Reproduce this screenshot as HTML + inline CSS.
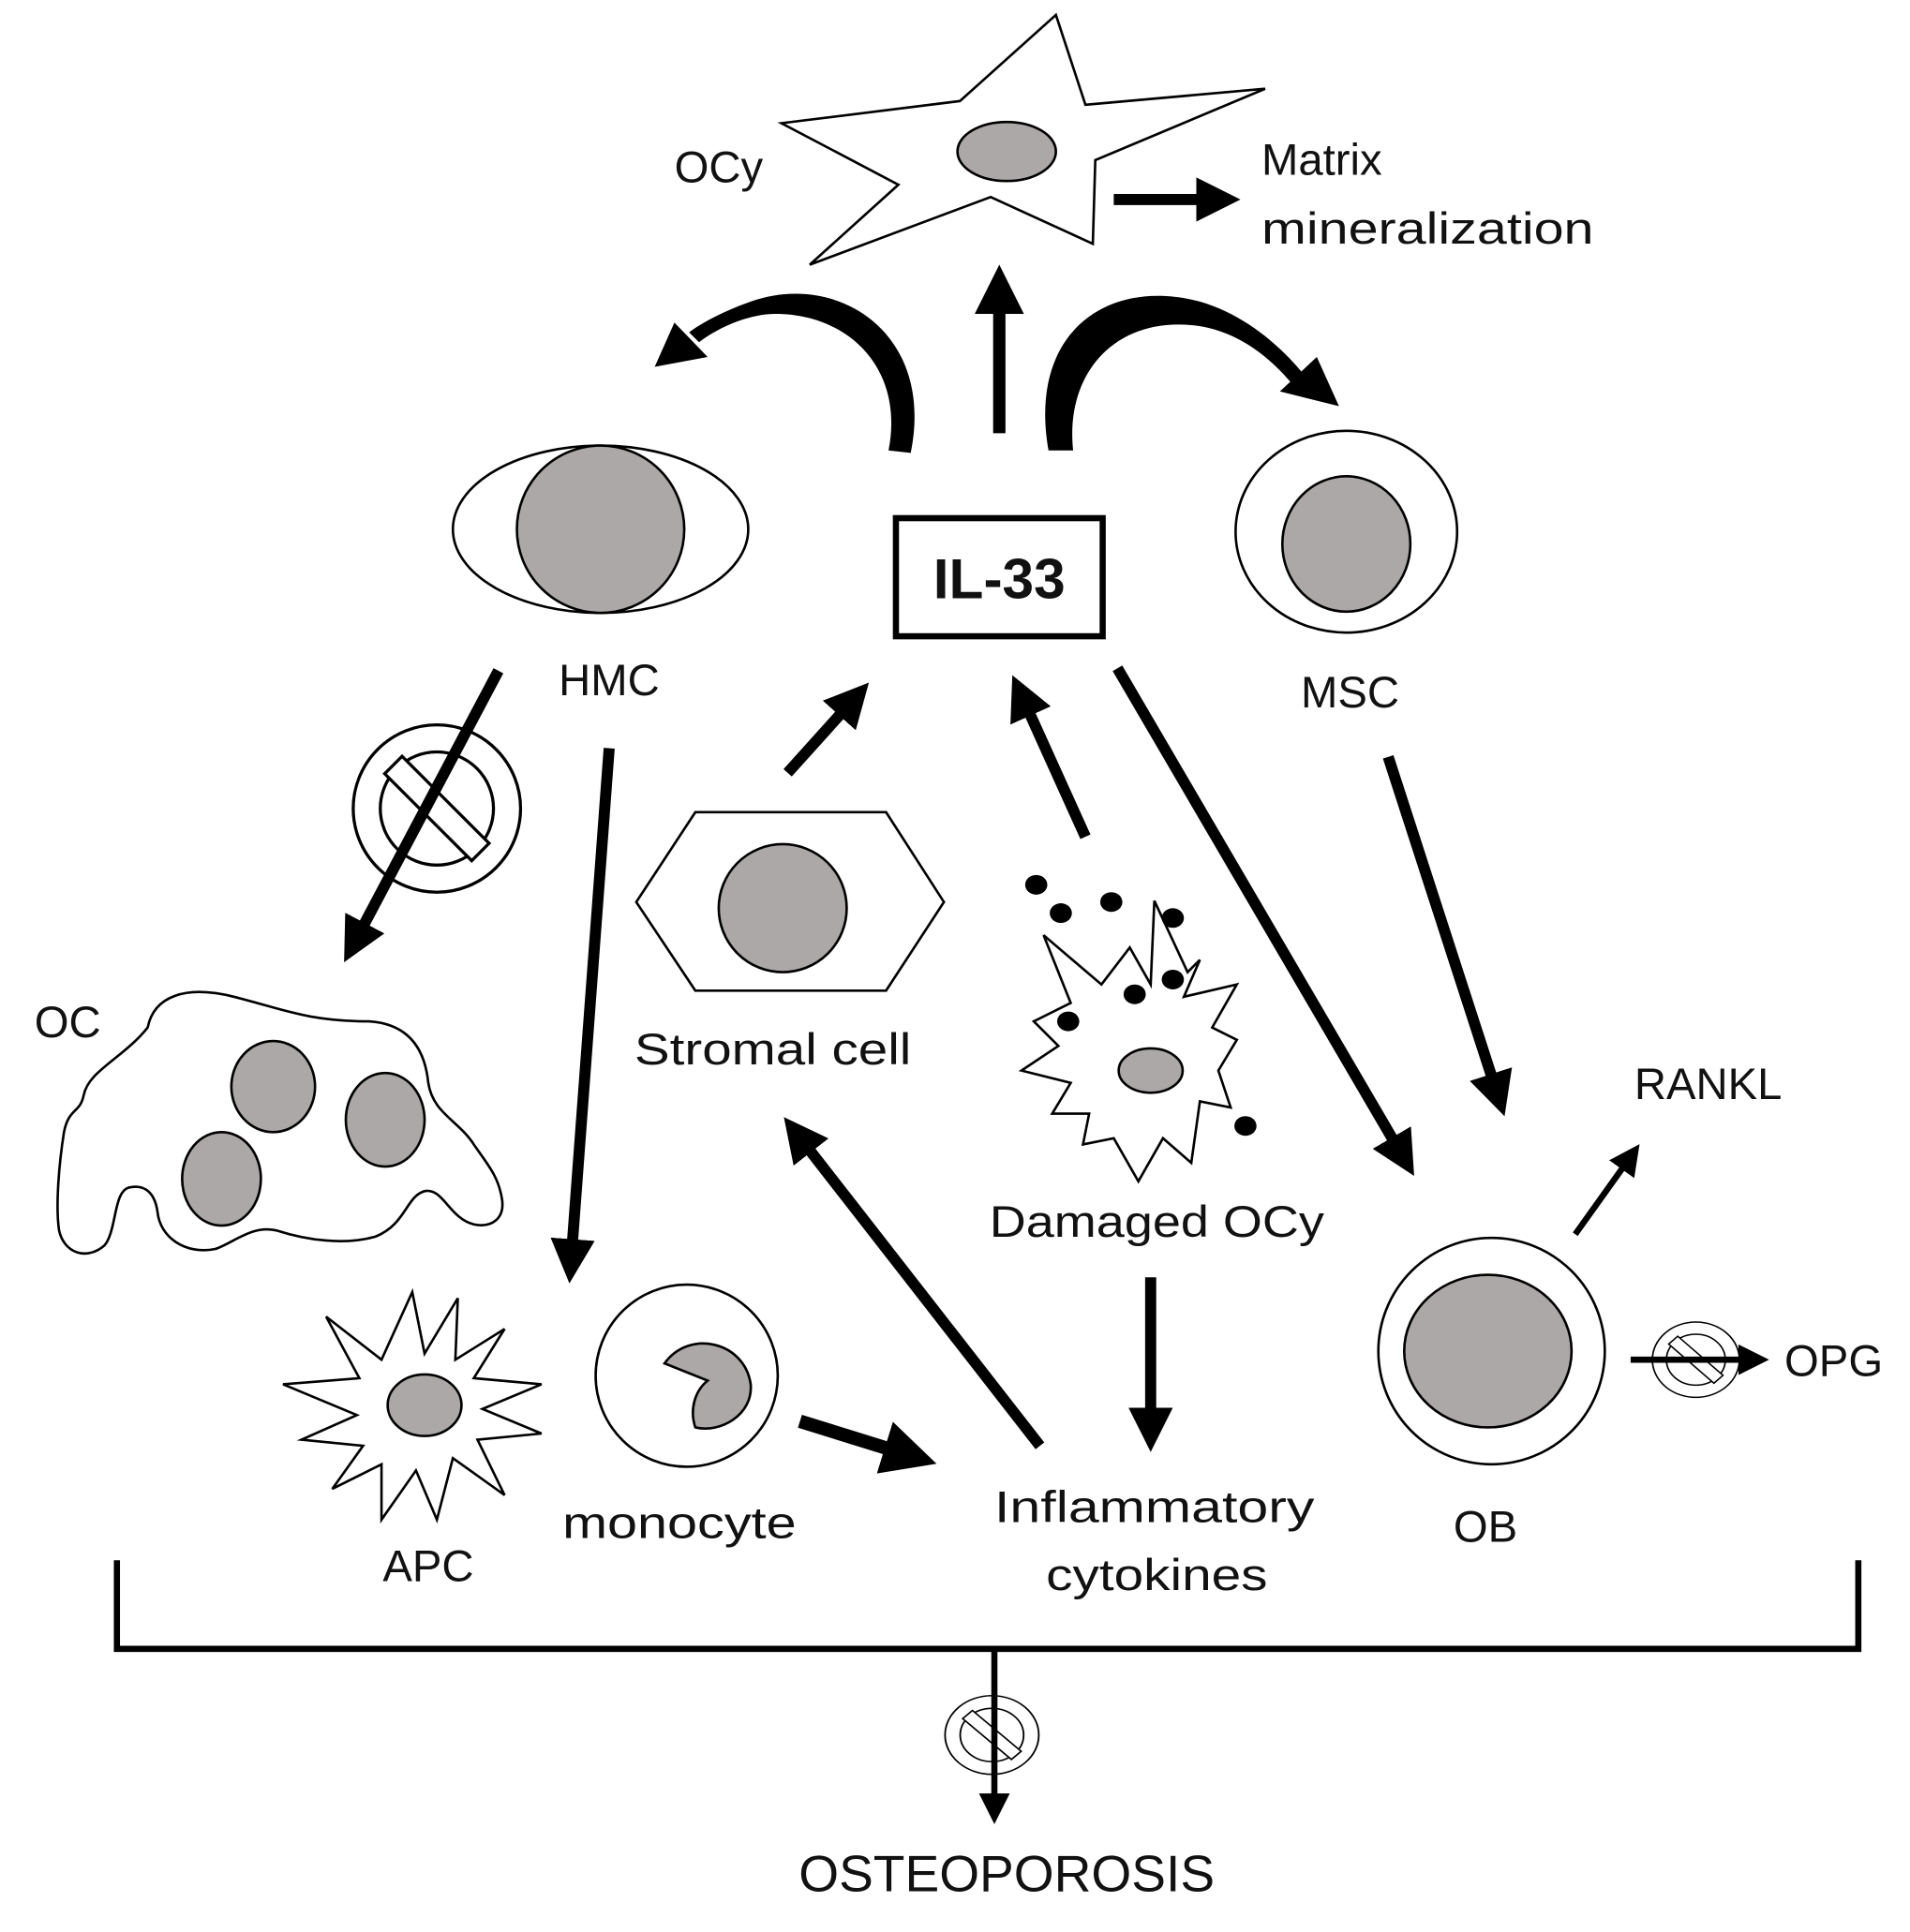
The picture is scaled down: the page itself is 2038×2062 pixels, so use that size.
<!DOCTYPE html>
<html><head><meta charset="utf-8"><style>
html,body{margin:0;padding:0;background:#fff;}
svg{display:block;}
text{font-family:"Liberation Sans",sans-serif;fill:#111;}
</style></head><body>
<svg width="2038" height="2062" viewBox="0 0 1552 1570" xmlns="http://www.w3.org/2000/svg">
<defs>
<marker id="ah" markerWidth="4" markerHeight="4" refX="2" refY="2" orient="auto" markerUnits="strokeWidth">
<path d="M0,0 L4,2 L0,4 z" fill="#000"/></marker>
<marker id="ah2" markerWidth="5" markerHeight="5" refX="2.5" refY="2.5" orient="auto" markerUnits="strokeWidth">
<path d="M0,0 L5,2.5 L0,5 z" fill="#000"/></marker>
<g id="nosym">
<circle cx="0" cy="0" r="68" fill="#fff" stroke="#000" stroke-width="2.5"/>
<circle cx="0" cy="0" r="46" fill="#fff" stroke="#000" stroke-width="2.5"/>
<rect x="-50" y="-10" width="100" height="20" fill="#fff" stroke="#000" stroke-width="2.5" transform="rotate(45)"/>
</g>
</defs>

<polygon points="858,12 882,85 1028,72 890,130 888,198 805,160 658,215 730,150 635,100 780,82" fill="#fff" stroke="#000" stroke-width="2"/>
<ellipse cx="818" cy="123" rx="40" ry="24" fill="#aca8a8" stroke="#000" stroke-width="2"/>
<text x="548" y="148" font-size="36">OCy</text>
<line x1="905" y1="162" x2="990" y2="162" stroke="#000" stroke-width="9" marker-end="url(#ah)"/>
<text x="1025" y="142" font-size="36">Matrix</text>
<text x="1025" y="198" font-size="36" textLength="270" lengthAdjust="spacingAndGlyphs">mineralization</text>

<line x1="812" y1="352" x2="812" y2="235" stroke="#000" stroke-width="10" marker-end="url(#ah)"/>
<path d="M740,368 C760,270 680,220 610,245 C590,252 570,262 560,270 L568,278 C585,265 610,255 630,255 C690,255 735,300 722,366 Z" fill="#000"/>
<polygon points="532,298 548,262 575,290" fill="#000"/>
<path d="M852,366 C835,270 900,225 975,245 C1010,255 1040,280 1060,305 L1050,312 C1030,288 1005,270 975,265 C910,255 865,300 872,366 Z" fill="#000"/>
<polygon points="1088,330 1040,318 1070,290" fill="#000"/>

<ellipse cx="488" cy="430" rx="120" ry="68" fill="#fff" stroke="#000" stroke-width="2"/>
<circle cx="488" cy="430" r="68" fill="#aca8a8" stroke="#000" stroke-width="2"/>
<text x="495" y="565" font-size="36" text-anchor="middle">HMC</text>

<rect x="728" y="421" width="168" height="96" fill="#fff" stroke="#000" stroke-width="5"/>
<text x="812" y="486" font-size="46" font-weight="bold" text-anchor="middle">IL-33</text>

<ellipse cx="1094" cy="432" rx="90" ry="82" fill="#fff" stroke="#000" stroke-width="2"/>
<ellipse cx="1094" cy="442" rx="52" ry="55" fill="#aca8a8" stroke="#000" stroke-width="2"/>
<text x="1097" y="575" font-size="36" text-anchor="middle">MSC</text>

<use href="#nosym" x="355" y="657"/>
<line x1="405" y1="545" x2="288" y2="766" stroke="#000" stroke-width="9" marker-end="url(#ah)"/>
<line x1="495" y1="608" x2="464" y2="1025" stroke="#000" stroke-width="9" marker-end="url(#ah)"/>
<line x1="640" y1="628" x2="694" y2="568" stroke="#000" stroke-width="9" marker-end="url(#ah)"/>
<line x1="882" y1="680" x2="830" y2="565" stroke="#000" stroke-width="9" marker-end="url(#ah)"/>
<line x1="908" y1="543" x2="1140" y2="940" stroke="#000" stroke-width="9" marker-end="url(#ah)"/>
<line x1="1128" y1="615" x2="1217" y2="890" stroke="#000" stroke-width="9" marker-end="url(#ah)"/>
<line x1="1280" y1="1003" x2="1325" y2="940" stroke="#000" stroke-width="5" marker-end="url(#ah2)"/>
<line x1="845" y1="1175" x2="648" y2="922" stroke="#000" stroke-width="9" marker-end="url(#ah)"/>
<line x1="935" y1="1038" x2="935" y2="1162" stroke="#000" stroke-width="9" marker-end="url(#ah)"/>
<line x1="650" y1="1155" x2="740" y2="1183" stroke="#000" stroke-width="11" marker-end="url(#ah)"/>

<polygon points="517,733 565,660 720,660 767,733 720,805 565,805" fill="#fff" stroke="#000" stroke-width="2"/>
<circle cx="636" cy="738" r="52" fill="#aca8a8" stroke="#000" stroke-width="2"/>
<text x="628" y="865" font-size="36" text-anchor="middle" textLength="225" lengthAdjust="spacingAndGlyphs">Stromal cell</text>

<polygon points="848,760 895,800 918,770 935,800 938,732 965,790 975,780 962,810 1005,800 985,835 1005,845 990,870 1000,900 975,895 968,945 945,925 925,960 905,925 880,930 885,905 855,905 870,880 830,870 860,850 840,830 870,815" fill="#fff" stroke="#000" stroke-width="2"/>
<ellipse cx="935" cy="870" rx="26" ry="18" fill="#aca8a8" stroke="#000" stroke-width="2"/>
<g fill="#000">
<ellipse cx="842" cy="719" rx="9" ry="8"/><ellipse cx="862" cy="742" rx="9" ry="8"/>
<ellipse cx="903" cy="733" rx="9" ry="8"/><ellipse cx="953" cy="746" rx="9" ry="8"/>
<ellipse cx="922" cy="808" rx="9" ry="8"/><ellipse cx="953" cy="796" rx="9" ry="8"/>
<ellipse cx="868" cy="830" rx="9" ry="8"/><ellipse cx="1012" cy="915" rx="9" ry="8"/>
</g>
<text x="940" y="1005" font-size="36" text-anchor="middle" textLength="272" lengthAdjust="spacingAndGlyphs">Damaged OCy</text>

<path d="M120,835 C125,810 150,800 190,810 C230,820 250,830 300,830 C330,832 345,850 348,880 C352,905 372,910 385,930 C395,945 405,955 408,975 C410,990 400,998 385,995 C365,990 360,965 345,968 C330,972 330,995 305,1005 C280,1012 250,1008 225,1000 C205,995 190,1010 175,1015 C150,1020 130,1005 128,985 C126,970 118,962 105,965 C92,968 95,1000 85,1012 C70,1025 52,1018 48,1000 C45,980 48,945 52,920 C56,900 65,905 68,890 C72,870 100,860 120,835 Z" fill="#fff" stroke="#000" stroke-width="2"/>
<ellipse cx="222" cy="883" rx="34" ry="37" fill="#aca8a8" stroke="#000" stroke-width="2"/>
<ellipse cx="313" cy="910" rx="32" ry="38" fill="#aca8a8" stroke="#000" stroke-width="2"/>
<ellipse cx="180" cy="958" rx="32" ry="38" fill="#aca8a8" stroke="#000" stroke-width="2"/>
<text x="28" y="843" font-size="36">OC</text>

<polygon points="335,1050 345,1100 372,1055 370,1105 410,1080 385,1120 440,1125 392,1145 440,1165 388,1170 410,1215 368,1185 355,1235 338,1195 310,1235 310,1190 270,1210 295,1175 245,1170 290,1150 230,1125 292,1120 265,1070 310,1105" fill="#fff" stroke="#000" stroke-width="2"/>
<ellipse cx="345" cy="1142" rx="30" ry="25" fill="#aca8a8" stroke="#000" stroke-width="2"/>
<text x="348" y="1285" font-size="36" text-anchor="middle">APC</text>

<circle cx="558" cy="1118" r="74" fill="#fff" stroke="#000" stroke-width="2"/>
<path d="M540,1108 C560,1080 605,1090 610,1125 C612,1150 585,1165 565,1160 C560,1145 565,1130 575,1122 Z" fill="#aca8a8" stroke="#000" stroke-width="2"/>
<text x="552" y="1250" font-size="36" text-anchor="middle" textLength="190" lengthAdjust="spacingAndGlyphs">monocyte</text>

<text x="938" y="1237" font-size="36" text-anchor="middle" textLength="260" lengthAdjust="spacingAndGlyphs">Inflammatory</text>
<text x="940" y="1292" font-size="36" text-anchor="middle" textLength="180" lengthAdjust="spacingAndGlyphs">cytokines</text>

<circle cx="1212" cy="1098" r="92" fill="#fff" stroke="#000" stroke-width="2"/>
<ellipse cx="1209" cy="1098" rx="68" ry="62" fill="#aca8a8" stroke="#000" stroke-width="2"/>
<text x="1207" y="1253" font-size="36" text-anchor="middle">OB</text>
<text x="1388" y="893" font-size="36" text-anchor="middle">RANKL</text>

<g transform="translate(1378,1105) scale(0.52,0.45)"><use href="#nosym"/></g>
<line x1="1325" y1="1105" x2="1425" y2="1105" stroke="#000" stroke-width="5" marker-end="url(#ah2)"/>
<text x="1450" y="1118" font-size="36">OPG</text>

<polyline points="95,1268 95,1340 1510,1340 1510,1268" fill="none" stroke="#000" stroke-width="5"/>
<line x1="808" y1="1340" x2="808" y2="1470" stroke="#000" stroke-width="5" marker-end="url(#ah2)"/>
<g transform="translate(806,1410) scale(0.56,0.47)"><use href="#nosym"/></g>
<line x1="808" y1="1378" x2="808" y2="1442" stroke="#000" stroke-width="5"/>
<text x="818" y="1537" font-size="42" text-anchor="middle" textLength="338" lengthAdjust="spacingAndGlyphs">OSTEOPOROSIS</text>
</svg>
</body></html>
